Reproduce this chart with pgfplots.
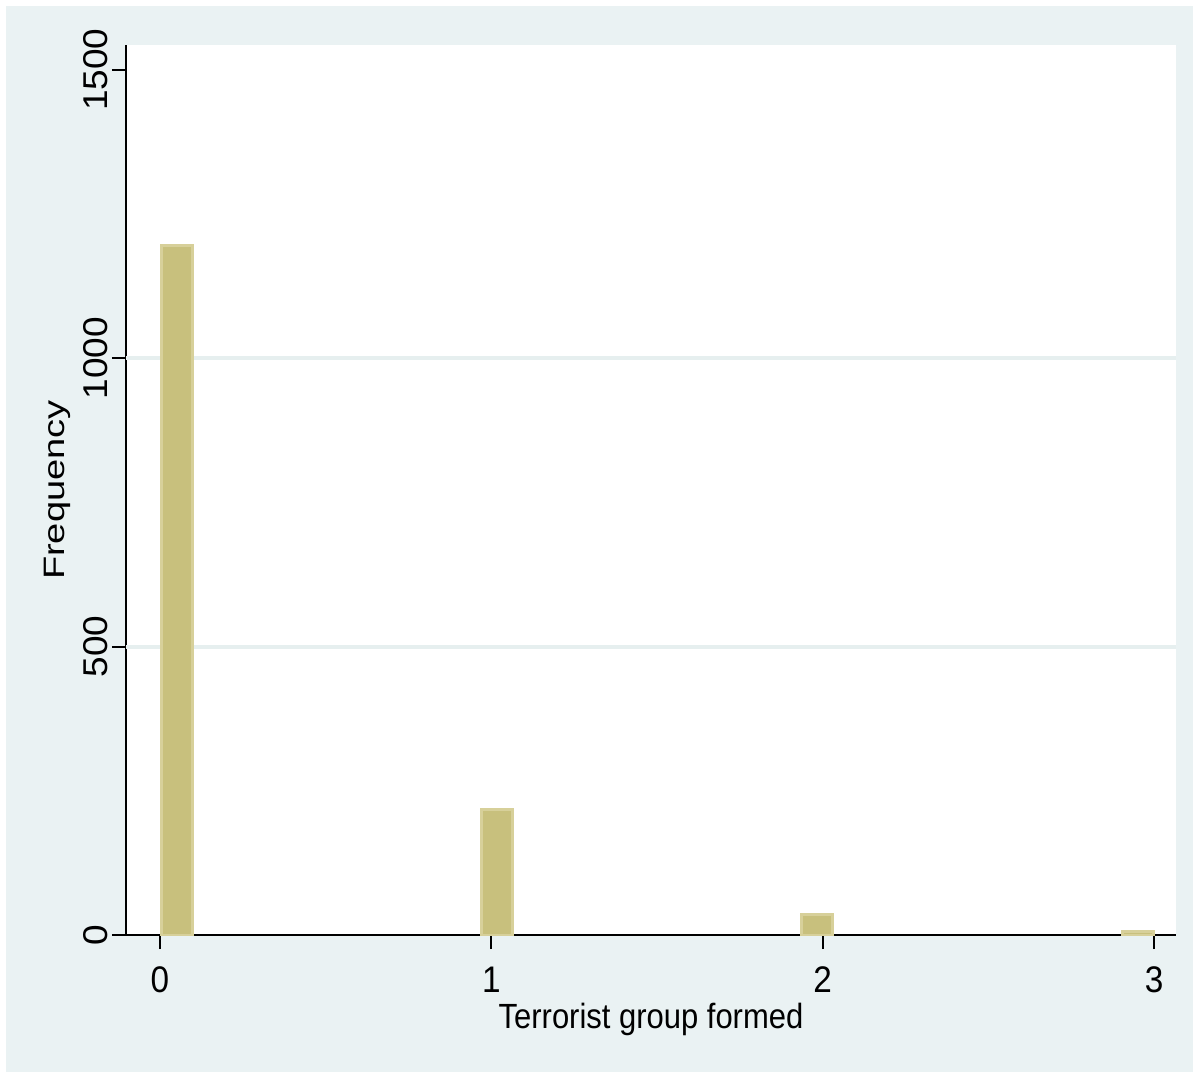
\documentclass[border=0pt]{standalone}
\usepackage{pgfplots}
\pgfplotsset{compat=1.18}
\usepackage{fontspec}
\setmainfont{Liberation Sans}
\definecolor{bg}{HTML}{EAF2F3}
\definecolor{barfill}{HTML}{C8C07D}
\definecolor{baredge}{HTML}{D7D09A}
\definecolor{gridc}{HTML}{E6EFEF}
\begin{document}
\begin{tikzpicture}[x=1pt,y=1pt]
\fill[white] (-63,-71.5) rectangle (536.5,467.5);
\fill[bg] (-60,-68.5) rectangle (533.5,464.5);
\begin{axis}[
  at={(0,0)}, anchor=south west, scale only axis,
  width=525pt, height=445pt,
  xmin=-0.1025, xmax=3.066, ymin=0, ymax=1543,
  axis background/.style={fill=white},
  axis lines=left,
  axis line style={-, black, line width=1pt},
  xtick={0,1,2,3}, ytick={0,500,1000,1500},
  tick style={black, line width=1pt},
  major tick length=7pt, tick align=outside,
  extra y ticks={500,1000},
  extra y tick labels={},
  extra y tick style={grid=major, major grid style={gridc, line width=2pt}, major tick length=0pt},
  /pgf/number format/1000 sep={},
  /pgf/number format/assume math mode=true,
  tick label style={font=\fontsize{18.5}{22}\selectfont},
  xticklabel={\scalebox{0.9}[1]{\pgfmathprintnumber{\tick}}},
  yticklabel={\scalebox{1}[0.93]{\pgfmathprintnumber{\tick}}},
  yticklabel style={rotate=90, anchor=south, inner sep=2pt},
  xticklabel style={anchor=north, yshift=-5.5pt},
  ybar, bar width=0.093,
]
\addplot[fill=barfill, draw=baredge, line width=1.5pt] coordinates {(0.0505,1196) (1.0175,217) (1.9835,36) (2.952,6)};
\end{axis}
\node[anchor=base, font=\fontsize{17.5}{20}\selectfont] at (262.5,-46.5) {\scalebox{0.885}[1]{Terrorist group formed}};
\node[anchor=base, rotate=90, font=\fontsize{17}{20}\selectfont] at (-30.5,222.5) {\scalebox{1.12}[0.87]{Frequency}};
\end{tikzpicture}
\end{document}
